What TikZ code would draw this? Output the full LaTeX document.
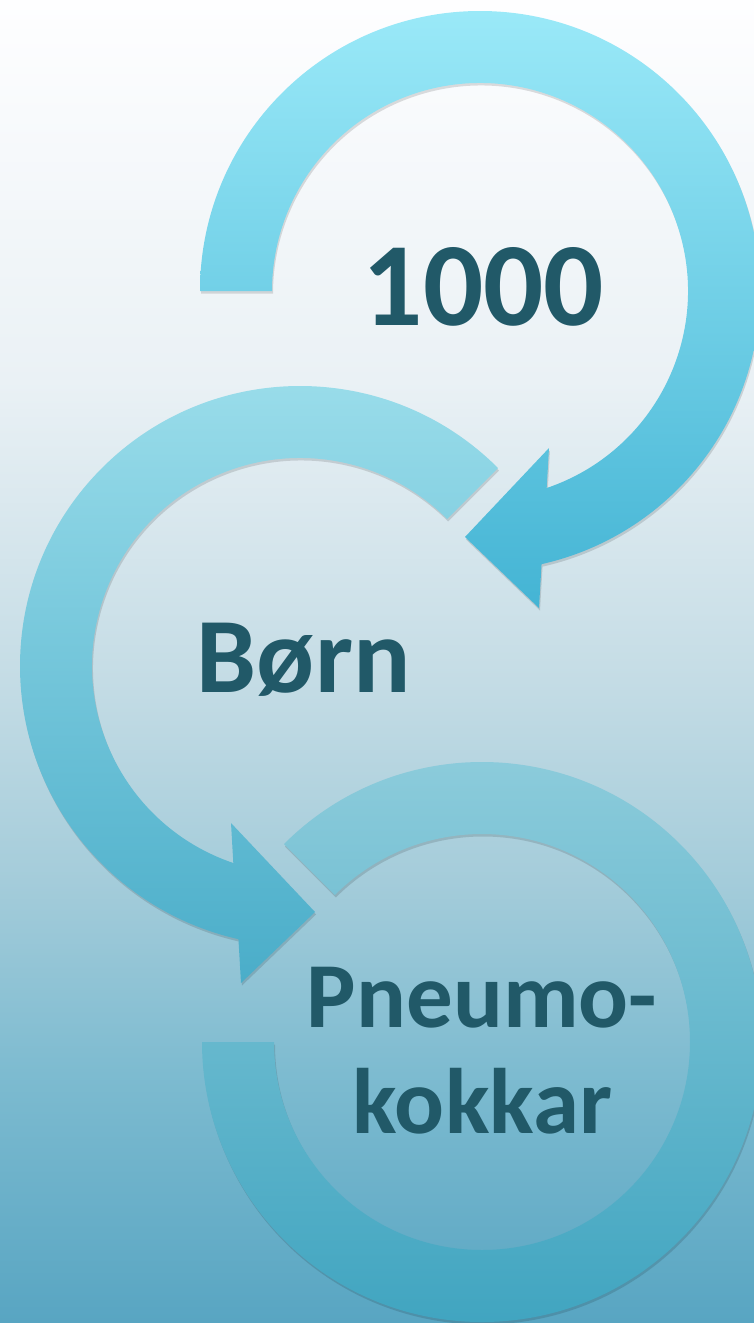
\documentclass[tikz,border=0pt]{standalone}
\usepackage{fontspec}
\setmainfont{Carlito}
\definecolor{txt}{RGB}{33,89,104}
\definecolor{bg0}{RGB}{254,254,255}
\definecolor{bg1}{RGB}{234,241,245}
\definecolor{bg2}{RGB}{196,220,229}
\definecolor{bg3}{RGB}{164,204,218}
\definecolor{bg4}{RGB}{125,187,208}
\definecolor{bg5}{RGB}{88,165,194}
\definecolor{aTop}{RGB}{154,233,248}
\definecolor{aBot}{RGB}{68,180,212}
\definecolor{bTop}{RGB}{156,222,235}
\definecolor{bBot}{RGB}{74,173,201}
\definecolor{cTop}{RGB}{143,205,220}
\definecolor{cBot}{RGB}{61,163,191}
\pgfdeclareverticalshading{bgshade}{100bp}{color(0bp)=(bg5); color(25bp)=(bg5); color(34.4bp)=(bg4); color(41.7bp)=(bg3); color(49.3bp)=(bg2); color(60.6bp)=(bg1); color(75bp)=(bg0); color(100bp)=(bg0)}
\tikzset{
  label text/.style={text=txt, inner sep=0pt, anchor=base},
  ringshadow/.style={fill=black, opacity=0.13},
}
\begin{document}
\begin{tikzpicture}[x=1pt,y=1pt]
\useasboundingbox (0,0) rectangle (754,-1323);
\clip (0,0) rectangle (754,-1323);
\shade[shading=bgshade] (0,0) rectangle (754,-1323);

% arrow 1 (top)
\begin{scope}[shift={(480,-291)}]
  \fill[ringshadow, shift={(1,-2.5)}] (180:280) arc[start angle=180,end angle=-77.3,radius=280] -- (59,-317) -- (-15,-246) -- (69,-157) -- (-71.3:208) arc[start angle=-71.3,end angle=180,radius=208] -- cycle;
  \shade[top color=aTop, bottom color=aBot] (180:280) arc[start angle=180,end angle=-77.3,radius=280] -- (59,-317) -- (-15,-246) -- (69,-157) -- (-71.3:208) arc[start angle=-71.3,end angle=180,radius=208] -- cycle;
\end{scope}

% arrow 2 (middle)
\begin{scope}[shift={(300,-666)}]
  \fill[ringshadow, shift={(1,-2.5)}] (45:280) arc[start angle=45,end angle=257.3,radius=280] -- (-59,-317) -- (15,-246) -- (-69,-157) -- (251.3:208) arc[start angle=251.3,end angle=45,radius=208] -- cycle;
  \shade[top color=bTop, bottom color=bBot] (45:280) arc[start angle=45,end angle=257.3,radius=280] -- (-59,-317) -- (15,-246) -- (-69,-157) -- (251.3:208) arc[start angle=251.3,end angle=45,radius=208] -- cycle;
\end{scope}

% arc 3 (bottom)
\begin{scope}[shift={(482,-1042)}]
  \fill[ringshadow, shift={(1,-2.5)}] (135:280) arc[start angle=135,end angle=-180,radius=280] -- (-180:208) arc[start angle=-180,end angle=135,radius=208] -- cycle;
  \shade[top color=cTop, bottom color=cBot] (135:280) arc[start angle=135,end angle=-180,radius=280] -- (-180:208) arc[start angle=-180,end angle=135,radius=208] -- cycle;
\end{scope}

\node[label text, font=\fontsize{119}{119}\selectfont\bfseries] (t1) at (483.5,-325) {1000};
\node[label text, font=\fontsize{107}{107}\selectfont\bfseries] (t2) at (303.6,-692) {Børn};
\node[label text, font=\fontsize{93}{93}\selectfont\bfseries] (t3a) at (482,-1027) {Pneumo-};
\node[label text, font=\fontsize{93}{93}\selectfont\bfseries] (t3b) at (482.5,-1133) {kokkar};
\end{tikzpicture}
\end{document}
